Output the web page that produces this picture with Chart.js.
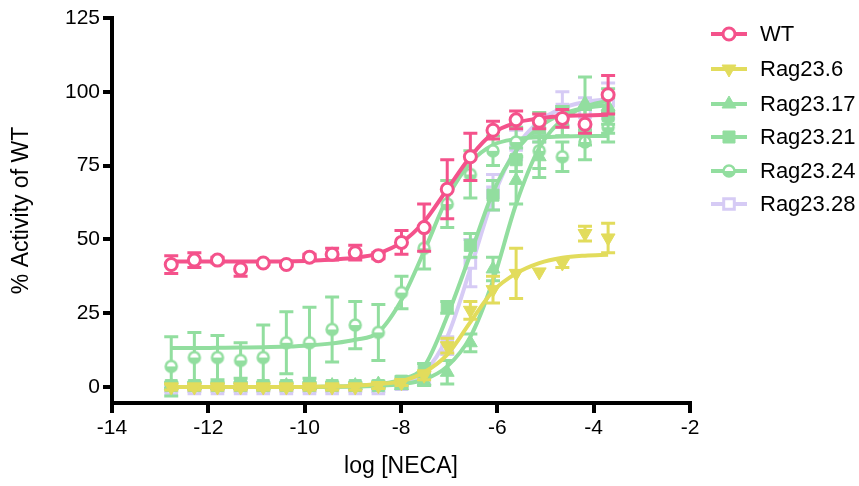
<!DOCTYPE html>
<html>
<head>
<meta charset="utf-8">
<script src="https://cdn.jsdelivr.net/npm/chart.js@4.4.1/dist/chart.umd.min.js"></script>
<style>
  html, body { margin: 0; padding: 0; background: #fff; }
</style>
</head>
<body>
<canvas id="necaChart" width="859" height="486"></canvas>
<script>
// log [NECA] doses (3-fold dilutions)
const logNeca = [-12.77, -12.29, -11.81, -11.33, -10.86, -10.38, -9.90, -9.43, -8.95, -8.47,
                 -7.99, -7.52, -7.04, -6.56, -6.09, -5.61, -5.13, -4.65, -4.18, -3.70];

const seriesNames = ['WT', 'Rag23.6', 'Rag23.17', 'Rag23.21', 'Rag23.24', 'Rag23.28'];

// mean % activity, error, fitted curve
const wtMean = [41.5, 43, 43, 40, 42, 41.5, 44, 45, 45.5, 44.5, 49, 54, 67, 78, 87, 90.5, 90, 91, 89, 99];
const wtErr  = [3, 2.5, 1, 2.5, 0.5, 0.5, 1, 2, 2.5, 1, 4, 8, 10, 8, 3, 3, 2.5, 3, 3, 6.5];
const wtFit  = [42.5, 42.5, 42.5, 42.5, 42.5, 42.6, 42.8, 43.2, 43.8, 45.3, 49, 56, 67, 78, 86, 89.5, 91, 91.8, 92, 92.2];

const r6Mean = [0, 0, 0, 0, 0, 0, 0, 0, 0, 0.5, 1.5, 4, 14, 26, 33, 38.5, 39, 42, 52, 50.5];
const r6Err  = [1, 1, 1, 1, 1, 1, 1, 1, 1, 1, 1, 1.5, 2.5, 3, 4.5, 8.5, 0, 1.5, 2.5, 5];
const r6Fit  = [0, 0, 0, 0, 0, 0, 0.1, 0.2, 0.4, 1, 2, 5, 11, 22, 32.5, 38.5, 42, 43.8, 44.5, 44.8];

const r17Mean = [0.5, 0.5, 0.5, 0.5, 0.5, 0.5, 0.5, 0.5, 0.5, 1, 0.5, 2, 5, 15, 40, 70, 78, 90, 96, 95];
const r17Err  = [1, 1, 1, 1, 1, 1, 1, 1, 1, 1, 1, 1.5, 4, 3, 4, 8, 7, 5, 9, 6];
const r17Fit  = [0, 0, 0, 0, 0, 0, 0, 0.1, 0.2, 0.4, 1, 2.5, 7, 17, 36, 62, 81, 90.5, 95, 97];

const r21Mean = [0.5, 0.5, 0.5, 0.5, 0.5, 0.5, 0.5, 0.5, 0.5, 0.5, 2, 6, 27, 48, 65, 77, 88, 90, 88, 92];
const r21Err  = [1, 1, 1, 1, 1, 1, 1, 1, 1, 1, 1.5, 2, 2, 4, 5, 4, 5, 5, 6, 6];
const r21Fit  = [0, 0, 0, 0, 0, 0, 0.1, 0.2, 0.4, 1, 2.5, 7, 24, 45, 66, 80, 88, 92.5, 94.5, 95.5];

const r24Mean = [7, 10, 10, 9, 10, 15, 15, 19.5, 21, 18.5, 32, 47, 62, 72, 80, 83, 80, 78, 83, 88];
const r24Err  = [10, 8.5, 7.5, 6, 11, 10.5, 12, 11, 8, 9.5, 5.5, 7, 8, 8, 5, 5, 6, 5, 6, 5];
const r24Fit  = [13.2, 13.2, 13.3, 13.4, 13.5, 13.7, 14.1, 14.8, 16, 18.6, 29.5, 46, 64, 76, 82, 84, 84.6, 84.9, 85, 85];

const r28Mean = [-0.5, -0.5, -0.5, -0.5, -0.5, -0.5, -0.5, -0.5, -0.5, -0.5, 1, 3, 14, 42, 66, 82, 87, 94, 93, 97];
const r28Err  = [1, 1, 1, 1, 1, 1, 1, 1, 1, 1, 1, 2, 3, 8, 6, 5, 4, 6, 5, 6];
const r28Fit  = [0, 0, 0, 0, 0, 0, 0, 0.1, 0.3, 0.7, 1.5, 5, 17, 40, 64, 81, 90, 94.5, 96.5, 97.5];

const xTicks = [-14, -12, -10, -8, -6, -4, -2];
const yTicks = [0, 25, 50, 75, 100, 125];

const PINK = '#F4528B';
const YELLOW = '#E2DC5C';
const GREEN = '#92DE9F';
const LAVENDER = '#D6CBF5';

// half-filled circle marker for Rag23.24
function halfCircle(color) {
  const c = document.createElement('canvas');
  c.width = 16; c.height = 16;
  const g = c.getContext('2d');
  g.lineWidth = 2.5;
  g.strokeStyle = color;
  g.fillStyle = '#fff';
  g.beginPath(); g.arc(8, 8, 5.5, 0, 2 * Math.PI); g.fill(); g.stroke();
  g.fillStyle = color;
  g.beginPath(); g.arc(8, 8, 5.5, 0, Math.PI); g.fill();
  return c;
}

const pts = (ys) => logNeca.map((x, i) => ({ x: x, y: ys[i] }));

const markers = [
  { color: PINK, pointStyle: 'circle', radius: 6, fill: '#fff', rotation: 0, borderWidth: 3 },
  { color: YELLOW, pointStyle: 'triangle', radius: 8, fill: YELLOW, rotation: 180, borderWidth: 1 },
  { color: GREEN, pointStyle: 'triangle', radius: 8, fill: GREEN, rotation: 0, borderWidth: 1 },
  { color: GREEN, pointStyle: 'rect', radius: 8.5, fill: GREEN, rotation: 0, borderWidth: 1 },
  { color: GREEN, pointStyle: halfCircle(GREEN), radius: 8, fill: GREEN, rotation: 0, borderWidth: 0 },
  { color: LAVENDER, pointStyle: 'rect', radius: 7.5, fill: '#fff', rotation: 0, borderWidth: 3 }
];
const means = [wtMean, r6Mean, r17Mean, r21Mean, r24Mean, r28Mean];
const errs = [wtErr, r6Err, r17Err, r21Err, r24Err, r28Err];
const fits = [wtFit, r6Fit, r17Fit, r21Fit, r24Fit, r28Fit];

const datasets = [];
seriesNames.forEach((name, s) => {
  const m = markers[s];
  datasets.push({
    label: name,
    type: 'scatter',
    data: pts(means[s]),
    errors: errs[s],
    showLine: false,
    pointStyle: m.pointStyle,
    pointRadius: m.radius,
    pointRotation: m.rotation,
    pointBackgroundColor: m.fill,
    pointBorderColor: m.color,
    pointBorderWidth: m.borderWidth,
    borderColor: m.color,
    backgroundColor: m.fill
  });
  datasets.push({
    label: name + ' fit',
    type: 'line',
    data: pts(fits[s]),
    borderColor: m.color,
    borderWidth: 4,
    pointRadius: 0,
    cubicInterpolationMode: 'monotone',
    fill: false
  });
});

// vertical error bars with caps, drawn under each marker set
const errorBars = {
  id: 'errorBars',
  beforeDatasetDraw(chart, args) {
    const ds = chart.data.datasets[args.index];
    if (!ds.errors) return;
    const { ctx, chartArea, scales: { x, y } } = chart;
    ctx.save();
    ctx.beginPath();
    ctx.rect(chartArea.left, chartArea.top, chartArea.right - chartArea.left, chartArea.bottom - chartArea.top);
    ctx.clip();
    ctx.strokeStyle = ds.borderColor;
    ctx.lineWidth = 3;
    ds.data.forEach((p, i) => {
      const e = ds.errors[i];
      if (!e) return;
      const px = x.getPixelForValue(p.x);
      const top = y.getPixelForValue(p.y + e);
      const bot = y.getPixelForValue(p.y - e);
      ctx.beginPath();
      ctx.moveTo(px, top); ctx.lineTo(px, bot);
      ctx.moveTo(px - 7, top); ctx.lineTo(px + 7, top);
      ctx.moveTo(px - 7, bot); ctx.lineTo(px + 7, bot);
      ctx.stroke();
    });
    ctx.restore();
  }
};

// legend: short line with the marker on it
const sideLegend = {
  id: 'sideLegend',
  afterDraw(chart) {
    const ctx = chart.ctx;
    const rows = [34, 69, 104, 137, 171, 204];
    ctx.save();
    seriesNames.forEach((name, s) => {
      const m = markers[s];
      const yy = rows[s];
      ctx.strokeStyle = m.color;
      ctx.lineWidth = 4;
      ctx.beginPath();
      ctx.moveTo(711, yy); ctx.lineTo(747, yy);
      ctx.stroke();
      ctx.fillStyle = m.fill;
      ctx.strokeStyle = m.color;
      ctx.lineWidth = m.borderWidth;
      Chart.helpers.drawPoint(ctx, {
        pointStyle: m.pointStyle, radius: m.radius, rotation: m.rotation, borderWidth: m.borderWidth
      }, 729, yy);
      ctx.fillStyle = '#000';
      ctx.font = '22px "Liberation Sans", Arial, sans-serif';
      ctx.textBaseline = 'middle';
      ctx.fillText(name, 760, yy + 1);
    });
    ctx.restore();
  }
};

const tickFont = { family: '"Liberation Sans", Arial, sans-serif', size: 21 };
const titleFont = { family: '"Liberation Sans", Arial, sans-serif', size: 23 };

new Chart(document.getElementById('necaChart').getContext('2d'), {
  data: { datasets: datasets },
  options: {
    responsive: false,
    animation: false,
    layout: { padding: { left: 0, right: 169, top: 18, bottom: 0 } },
    plugins: { legend: { display: false }, tooltip: { enabled: false } },
    scales: {
      x: {
        type: 'linear',
        min: -14,
        max: -2,
        afterBuildTicks: (scale) => { scale.ticks = xTicks.map(v => ({ value: v })); },
        afterFit: (scale) => { scale.height = 83; },
        ticks: { color: '#000', font: tickFont, padding: 3, maxRotation: 0, callback: (v) => String(v) },
        grid: { display: true, drawOnChartArea: false, drawTicks: true, tickLength: 10, lineWidth: 4, color: '#000' },
        border: { display: true, width: 4, color: '#000' },
        title: { display: true, text: 'log [NECA]', color: '#000', font: titleFont, padding: { top: 0, bottom: 6 } }
      },
      y: {
        type: 'linear',
        min: -5.4,
        max: 125,
        afterBuildTicks: (scale) => { scale.ticks = yTicks.map(v => ({ value: v })); },
        afterFit: (scale) => { scale.width = 112; },
        ticks: { color: '#000', font: tickFont, padding: 3 },
        grid: { display: true, drawOnChartArea: false, drawTicks: true, tickLength: 9, lineWidth: 4, color: '#000' },
        border: { display: true, width: 4, color: '#000' },
        title: { display: true, text: '% Activity of WT', color: '#000', font: titleFont, padding: { top: 8, bottom: 0 } }
      }
    }
  },
  plugins: [errorBars, sideLegend]
});
</script>
</body>
</html>
